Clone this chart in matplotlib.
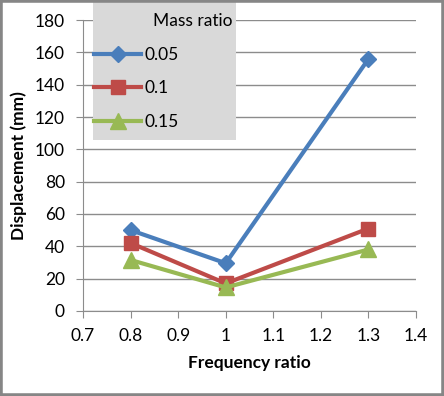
import matplotlib.pyplot as plt
from matplotlib.patches import Rectangle

freq_ratio = [0.8, 1.0, 1.3]
disp_005 = [50, 29.5, 156]
disp_01 = [42, 17, 51]
disp_015 = [31.5, 14.5, 38]

plt.rcParams['font.family'] = ['Lato', 'DejaVu Sans']

fig = plt.figure(figsize=(4.44, 3.96), dpi=100)
ax = fig.add_axes([0.187, 0.215, 0.75, 0.734])

ax.plot(freq_ratio, disp_005, color='#4a7ebb', linewidth=3, marker='D', markersize=8, label='0.05')
ax.plot(freq_ratio, disp_01, color='#be4b48', linewidth=3, marker='s', markersize=10, label='0.1')
ax.plot(freq_ratio, disp_015, color='#98b954', linewidth=3, marker='^', markersize=11, label='0.15')

ax.set_xlim(0.7, 1.4)
ax.set_ylim(0, 180)
ax.set_xticks([0.7, 0.8, 0.9, 1.0, 1.1, 1.2, 1.3, 1.4])
ax.set_xticklabels(['0.7', '0.8', '0.9', '1', '1.1', '1.2', '1.3', '1.4'])
ax.set_yticks(range(0, 181, 20))
ax.grid(axis='y', color='#8c8c8c', linewidth=1)
ax.set_axisbelow(True)
for side in ['top', 'right']:
    ax.spines[side].set_visible(False)
for side in ['left', 'bottom']:
    ax.spines[side].set_color('#8c8c8c')
ax.tick_params(colors='#8c8c8c', labelcolor='black', labelsize=12.5, length=5, direction='out')
ax.tick_params(axis='y', pad=8)
ax.tick_params(axis='x', pad=7)

ax.set_xlabel('Frequency ratio', fontsize=12.5, fontweight='bold', labelpad=8)
ax.set_ylabel('Displacement (mm)', fontsize=12.5, fontweight='bold', labelpad=6)

# grey legend box sitting over the top-left of the plot
fig.patches.append(Rectangle((0.209, 0.646), 0.322, 0.354, transform=fig.transFigure,
                             facecolor='#d9d9d9', edgecolor='none', zorder=5))
fig.text(0.523, 0.946, 'Mass ratio', fontsize=12.5, ha='right', va='center', zorder=6)
leg = fig.legend(loc='upper left', bbox_to_anchor=(0.212, 0.881),
                 fontsize=12.5, frameon=False,
                 handlelength=2.7, handletextpad=0.2, labelspacing=1.0, borderpad=0,
                 borderaxespad=0)
leg.set_zorder(6)

fig.patches.append(Rectangle((0, 0), 1, 1, transform=fig.transFigure, fill=False,
                             edgecolor='#868686', linewidth=4, zorder=10))

fig.savefig('out.png', dpi=100)
